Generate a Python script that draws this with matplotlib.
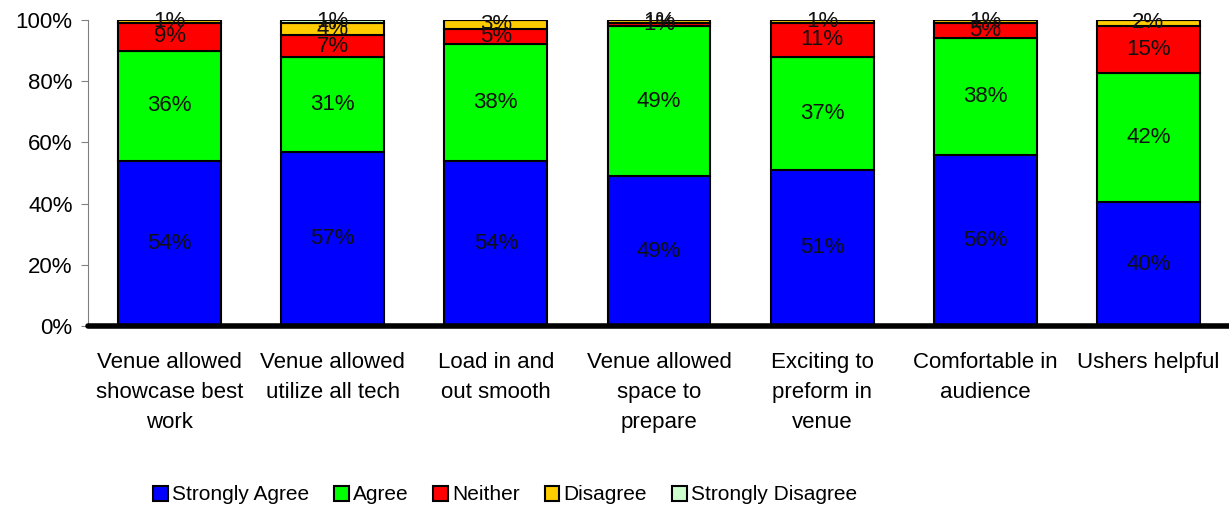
import matplotlib.pyplot as plt
import numpy as np

plt.rcParams['font.family'] = ['Liberation Sans', 'DejaVu Sans']

categories = ['Venue allowed\nshowcase best\nwork', 'Venue allowed\nutilize all tech',
              'Load in and\nout smooth', 'Venue allowed\nspace to\nprepare',
              'Exciting to\npreform in\nvenue', 'Comfortable in\naudience', 'Ushers helpful']
strongly_agree = [54, 57, 54, 49, 51, 56, 40.4]
agree = [36, 31, 38, 49, 37, 38, 42.3]
neither = [9, 7, 5, 1, 11, 5, 15.4]
disagree = [1, 4, 3, 1, 1, 1, 1.9]
strongly_disagree = [0, 1, 0, 0, 0, 0, 0]

series = [('Strongly Agree', strongly_agree, '#0000FF'),
          ('Agree', agree, '#00FF00'),
          ('Neither', neither, '#FF0000'),
          ('Disagree', disagree, '#FFCC00'),
          ('Strongly Disagree', strongly_disagree, '#CCFFCC')]

fig = plt.figure(figsize=(12.29, 5.07), dpi=100)
ax = fig.add_axes([88 / 1229, 181 / 507, (1230 - 88) / 1229, 306 / 507])

x = np.arange(len(categories))
bottom = np.zeros(len(categories))
for name, vals, col in series:
    vals = np.array(vals, dtype=float)
    ax.bar(x, vals, 0.63, bottom=bottom, color=col, edgecolor='black', linewidth=1.5, label=name)
    for i, v in enumerate(vals):
        if v > 0:
            ax.text(x[i], bottom[i] + v / 2, f'{round(v)}%', ha='center', va='center',
                    fontsize=16, color='#111111')
    bottom += vals

ax.set_xlim(-0.5, 6.5)
ax.set_ylim(0, 100)
ax.set_yticks([0, 20, 40, 60, 80, 100])
ax.set_yticklabels([f'{t}%' for t in range(0, 101, 20)], fontsize=16)
ax.set_xticks(x)
ax.set_xticklabels(categories, fontsize=16, linespacing=1.55)
ax.tick_params(axis='x', length=0, pad=19)
ax.tick_params(axis='y', length=5, color='#808080', pad=6)
ax.spines['top'].set_visible(False)
ax.spines['right'].set_visible(False)
ax.spines['left'].set_color('#808080')
ax.spines['bottom'].set_linewidth(4)
ax.spines['bottom'].set_capstyle('round')

ax.legend(loc='center', bbox_to_anchor=(505 / 1229, 12 / 507), bbox_transform=fig.transFigure,
          ncol=5, frameon=False, fontsize=15, handlelength=0.7, handleheight=0.7,
          handletextpad=0.2, columnspacing=1.2)

fig.savefig('out.png', dpi=100)
